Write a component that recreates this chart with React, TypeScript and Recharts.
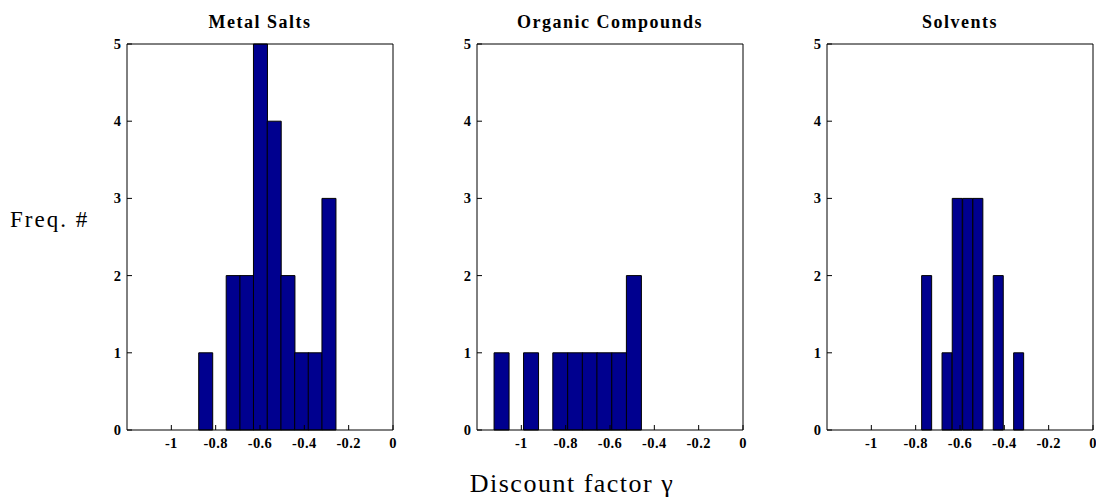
import React from "react";
import { BarChart, Bar, XAxis, YAxis } from "recharts";

// bin centres (discount factor) and counts
const metalBins = [-0.846, -0.784, -0.722, -0.66, -0.599, -0.537, -0.475, -0.413, -0.352, -0.29];
const metalCounts = [1, 0, 2, 2, 5, 4, 2, 1, 1, 3];

const organicBins = [-1.09, -1.024, -0.957, -0.891, -0.825, -0.758, -0.692, -0.626, -0.559, -0.493];
const organicCounts = [1, 0, 1, 0, 1, 1, 1, 1, 1, 2];

const solventBins = [-0.75, -0.704, -0.658, -0.612, -0.565, -0.519, -0.473, -0.427, -0.381, -0.335];
const solventCounts = [2, 0, 1, 3, 3, 3, 0, 2, 0, 1];

const xTicks = [-1, -0.8, -0.6, -0.4, -0.2, 0];
const yTicks = [0, 1, 2, 3, 4, 5];

const FONT = '"Liberation Serif", "Times New Roman", serif';
const BAR_FILL = "#00008f";

const panels = [
  { title: "Metal Salts", bins: metalBins, counts: metalCounts, left: 92 },
  { title: "Organic Compounds", bins: organicBins, counts: organicCounts, left: 442 },
  { title: "Solvents", bins: solventBins, counts: solventCounts, left: 792 },
];

// tick labels drawn by hand so the bold serif font sticks
const XTick = (props: any) => (
  <text
    x={props.x}
    y={props.y}
    dy="0.71em"
    textAnchor="middle"
    fontFamily={FONT}
    fontWeight="bold"
    fontSize={14.5}
    letterSpacing={0.4}
    fill="#000"
  >
    {String(props.payload.value)}
  </text>
);

const YTick = (props: any) => (
  <text
    x={props.x}
    y={props.y}
    dy="0.35em"
    textAnchor="end"
    fontFamily={FONT}
    fontWeight="bold"
    fontSize={14.5}
    fill="#000"
  >
    {String(props.payload.value)}
  </text>
);

function Histogram({ bins, counts, left }: { bins: number[]; counts: number[]; left: number }) {
  const data = bins.map((x, i) => ({ x, n: counts[i] }));
  return (
    <div style={{ position: "absolute", left, top: 0 }}>
      <BarChart
        width={306}
        height={502}
        data={data}
        margin={{ top: 43, right: 4, bottom: 0, left: 0 }}
        barCategoryGap={0}
        barGap={0}
      >
        <XAxis
          xAxisId="b"
          dataKey="x"
          type="number"
          domain={[-1.2, 0]}
          ticks={xTicks}
          height={72}
          tickSize={-5}
          tickMargin={13}
          stroke="#000"
          tick={<XTick />}
        />
        <XAxis
          xAxisId="t"
          orientation="top"
          dataKey="x"
          type="number"
          domain={[-1.2, 0]}
          ticks={xTicks}
          height={1}
          tickSize={-5}
          tick={false}
          stroke="#000"
        />
        <YAxis
          yAxisId="l"
          type="number"
          domain={[0, 5]}
          ticks={yTicks}
          width={35}
          tickSize={-5}
          tickMargin={11}
          stroke="#000"
          tick={<YTick />}
        />
        <YAxis
          yAxisId="r"
          orientation="right"
          type="number"
          domain={[0, 5]}
          ticks={yTicks}
          width={1}
          tickSize={-5}
          tick={false}
          stroke="#000"
        />
        <Bar
          xAxisId="b"
          yAxisId="l"
          dataKey="n"
          fill={BAR_FILL}
          stroke="#000"
          strokeWidth={1}
          isAnimationActive={false}
        />
      </BarChart>
    </div>
  );
}

export default function App() {
  return (
    <div
      style={{
        position: "absolute",
        left: 0,
        top: 0,
        width: 1096,
        height: 502,
        background: "#fff",
        fontFamily: FONT,
      }}
    >
      {panels.map((p) => (
        <Histogram key={p.title} bins={p.bins} counts={p.counts} left={p.left} />
      ))}
      <svg width={1096} height={502} style={{ position: "absolute", left: 0, top: 0, pointerEvents: "none" }}>
        {panels.map((p) => (
          <text
            key={p.title}
            x={p.left + 35 + 133}
            y={28}
            textAnchor="middle"
            fontFamily={FONT}
            fontWeight="bold"
            fontSize={18}
            letterSpacing={1.5}
          >
            {p.title}
          </text>
        ))}
        <text x={10} y={227} fontFamily={FONT} fontSize={23} letterSpacing={2}>
          Freq. #
        </text>
        <text x={572} y={492} textAnchor="middle" fontFamily={FONT} fontSize={26} letterSpacing={1.5}>
          Discount factor γ
        </text>
      </svg>
    </div>
  );
}
